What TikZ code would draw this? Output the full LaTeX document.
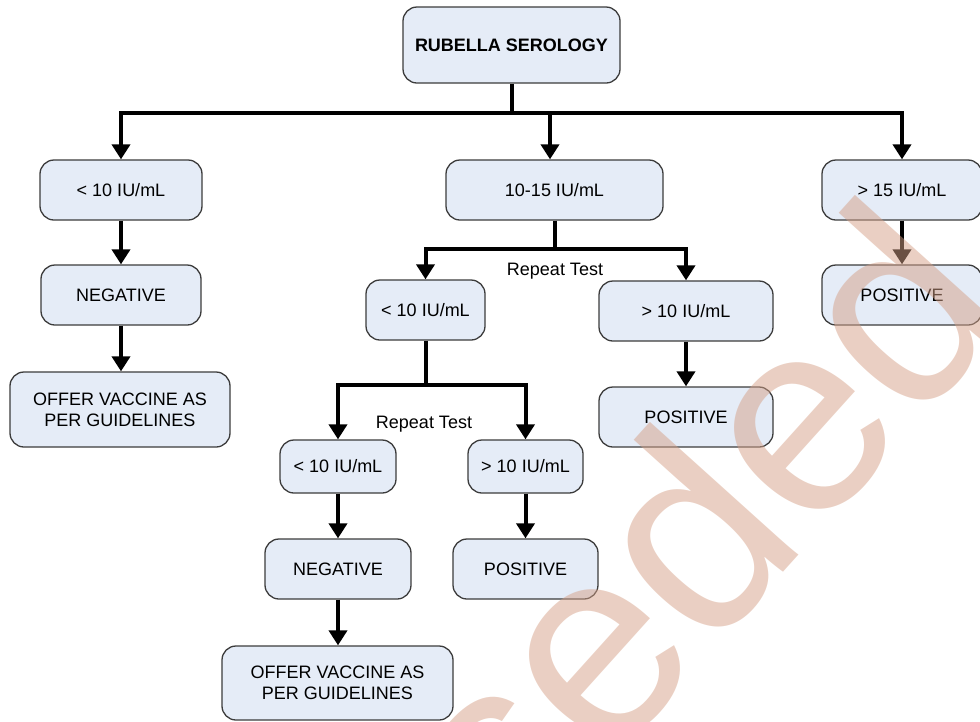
\documentclass[tikz,border=0pt]{standalone}
\usepackage{fontspec}
\setmainfont{Liberation Sans}
\usetikzlibrary{arrows.meta}
\definecolor{boxfill}{RGB}{229,236,247}
\definecolor{boxline}{RGB}{60,60,60}
\definecolor{wm}{RGB}{213,160,135}
\begin{document}
\begin{tikzpicture}[x=1pt,y=1pt,
  box/.style={draw=boxline, line width=1.3pt, fill=boxfill, rounded corners=14pt,
    align=center, inner sep=0pt, font=\fontsize{18}{21}\selectfont},
  conn/.style={line width=4pt, draw=black},
  arr/.style={conn, -{Triangle[width=18pt,length=15pt]}},
  lbl/.style={font=\fontsize{18}{21}\selectfont, inner sep=0pt}]
\useasboundingbox (0,0) rectangle (980,-721);

% boxes
\node[box, minimum width=217pt, minimum height=76pt] (top) at (511.5,-45) {\textbf{RUBELLA SEROLOGY}};
\node[box, minimum width=162pt, minimum height=60pt] (l1) at (121,-190) {< 10 IU/mL};
\node[box, minimum width=217pt, minimum height=60pt] (m1) at (554.5,-190) {10-15 IU/mL};
\node[box, minimum width=160pt, minimum height=60pt] (r1) at (902,-190) {> 15 IU/mL};
\node[box, minimum width=160pt, minimum height=60pt] (l2) at (121,-295) {NEGATIVE};
\node[box, minimum width=160pt, minimum height=60pt] (r2) at (902,-295) {POSITIVE};
\node[box, minimum width=220pt, minimum height=75pt] (l3) at (120,-409.5) {OFFER VACCINE AS\\PER GUIDELINES};
\node[box, minimum width=119pt, minimum height=60pt] (mA) at (425.5,-310) {< 10 IU/mL};
\node[box, minimum width=174pt, minimum height=60pt] (mB) at (686,-311) {> 10 IU/mL};
\node[box, minimum width=174pt, minimum height=60pt] (mBpos) at (686,-417) {POSITIVE};
\node[box, minimum width=116pt, minimum height=53pt] (lowA) at (338,-466.5) {< 10 IU/mL};
\node[box, minimum width=115pt, minimum height=53pt] (lowB) at (525.5,-466.5) {> 10 IU/mL};
\node[box, minimum width=146pt, minimum height=60pt] (lowNeg) at (338,-569) {NEGATIVE};
\node[box, minimum width=145pt, minimum height=60pt] (lowPos) at (525.5,-569) {POSITIVE};
\node[box, minimum width=231pt, minimum height=74pt] (lowOffer) at (337.5,-683) {OFFER VACCINE AS\\PER GUIDELINES};

% labels
\node[lbl] (rt1) at (555,-271) {Repeat Test};
\node[lbl] (rt2) at (424,-424) {Repeat Test};

% bus coordinates
\coordinate (bus1) at (0,-113);
\coordinate (bus2) at (0,-249);
\coordinate (bus3) at (0,-385);
\coordinate (mtap) at (550,-113);

% connectors
\draw[conn] (top.south) -- (top.south |- bus1);
\draw[arr] (top.south |- bus1) -| (l1.north);
\draw[arr] (top.south |- bus1) -| (r1.north);
\draw[arr] (mtap) -- (mtap |- m1.north);

\draw[arr] (l1.south) -- (l2.north);
\draw[arr] (l2.south) -- (l2.south |- l3.north);
\draw[arr] (r1.south) -- (r2.north);

\draw[conn] (m1.south) -- (m1.south |- bus2);
\draw[arr] (m1.south |- bus2) -| (mA.north);
\draw[arr] (m1.south |- bus2) -| (mB.north);
\draw[arr] (mB.south) -- (mBpos.north);

\draw[conn] (mA.south) -- (mA.south |- bus3);
\draw[arr] (mA.south |- bus3) -| (lowA.north);
\draw[arr] (mA.south |- bus3) -| (lowB.north);
\draw[arr] (lowA.south) -- (lowNeg.north);
\draw[arr] (lowNeg.south) -- (lowNeg.south |- lowOffer.north);
\draw[arr] (lowB.south) -- (lowPos.north);

% watermark
\begin{scope}
\clip (0,0) rectangle (980,-721);
\node[anchor=base east, rotate=48, text=wm, opacity=0.5, inner sep=0pt,
  font=\fontsize{275}{300}\selectfont] (wmk) at (1016,-314) {Superseded};
\end{scope}
\end{tikzpicture}
\end{document}
